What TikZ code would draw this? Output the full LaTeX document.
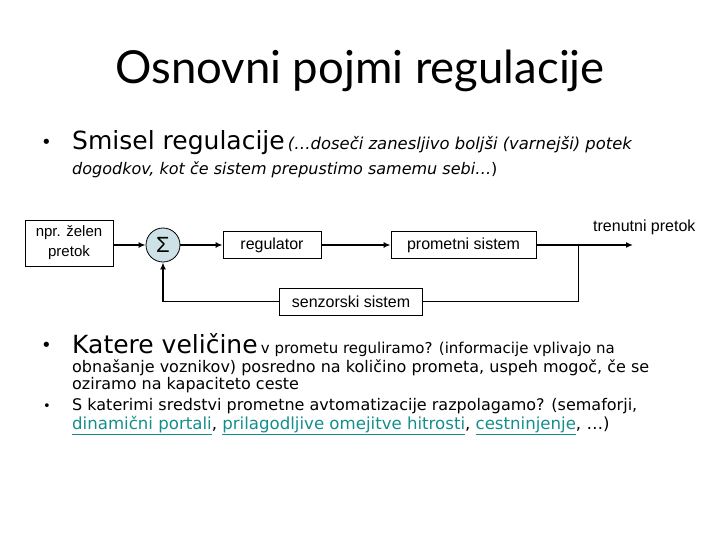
\documentclass[tikz,border=0pt]{standalone}
\usepackage{fontspec}
\setmainfont{DejaVu Sans}
\newfontfamily\titlefont{Lato}
\newfontfamily\diagfont{Liberation Sans}
\usetikzlibrary{arrows.meta,positioning,calc}
\definecolor{SumFill}{HTML}{CCE2E6}
\definecolor{LinkTeal}{HTML}{138E8C}
\tikzset{
  blockbox/.style={draw=black, line width=0.8pt, minimum height=27pt, inner sep=0pt, align=center, font=\diagfont\fontsize{16}{20}\selectfont},
  sumnode/.style={circle, draw=black, line width=0.8pt, fill=SumFill, minimum size=34pt, inner sep=0pt, font=\diagfont\fontsize{22}{22}\selectfont},
  signal/.style={-{Latex[length=7pt,width=6pt]}, line width=1.8pt},
  feedback/.style={line width=1pt},
  bodytext/.style={anchor=base west, inner sep=0pt},
  smalltext/.style={font=\fontsize{16}{17}\selectfont},
  dotmark/.style={anchor=base west, inner sep=0pt, font=\fontsize{18}{20}\selectfont}
}
\newcommand{\linkword}[1]{\textcolor{LinkTeal}{\underline{#1}}}

\begin{document}
\begin{tikzpicture}[x=1pt,y=-1pt]
  \useasboundingbox (0,0) rectangle (720,540);

  % title
  \node[anchor=base] (title) at (360,84) {\titlefont\fontsize{45.5}{50}\selectfont Osnovni pojmi regulacije};

  % first bullet
  \node[dotmark] (dot1) at (41,149) {•};
  \node[bodytext] (aim1) at (72,150) {{\fontsize{25}{28}\selectfont Smisel regulacije} {\fontsize{16.4}{17}\selectfont\itshape (…doseči zanesljivo boljši (varnejši) potek}};
  \node[bodytext, smalltext] (aim2) at (72,175) {\itshape dogodkov, kot če sistem prepustimo samemu sebi…\upshape)};

  % control loop
  \node[blockbox, minimum width=88pt, minimum height=46pt, font=\diagfont\fontsize{15}{20}\selectfont] (want) at (69,243) {npr. želen\\pretok};
  \node[sumnode] (sum) at (163,245) {Σ};
  \node[blockbox, minimum width=98pt] (reg) at (272,245) {regulator};
  \node[blockbox, minimum width=145pt] (plant) at (463.5,245) {prometni sistem};
  \node[blockbox, minimum width=143pt] (sensor) at (351,301.5) {senzorski sistem};
  \coordinate (tap) at (578,245);
  \coordinate (out) at (633,245);
  \node[bodytext, font=\diagfont\fontsize{16}{18}\selectfont] (outlabel) at (593,231) {trenutni pretok};

  \draw[signal] (want.east |- sum.west) -- (sum.west);
  \draw[signal] (sum) -- (reg);
  \draw[signal] (reg) -- (plant);
  \draw[signal] (plant) -- (out);
  \draw[feedback] (tap) |- (sensor);
  \draw[signal] (sensor) -| (sum);

  % second bullet
  \node[dotmark] (dot2) at (41,351) {•};
  \node[bodytext] (what1) at (72,353) {{\fontsize{25}{28}\selectfont Katere veličine} {\fontsize{15}{17}\selectfont v prometu reguliramo? (informacije vplivajo na}};
  \node[bodytext, smalltext] (what2) at (72,372) {obnašanje voznikov) posredno na količino prometa, uspeh mogoč, če se};
  \node[bodytext, smalltext] (what3) at (72,389) {oziramo na kapaciteto ceste};

  % third bullet
  \node[bodytext, font=\fontsize{13}{15}\selectfont] (dot3) at (43,410) {•};
  \node[bodytext, smalltext] (tools1) at (72,410) {S katerimi sredstvi prometne avtomatizacije razpolagamo? (semaforji,};
  \node[bodytext, font=\fontsize{16.6}{17}\selectfont] (tools2) at (72,429) {\linkword{dinamični portali}, \linkword{prilagodljive omejitve hitrosti}, \linkword{cestninjenje}, …)};
\end{tikzpicture}
\end{document}
